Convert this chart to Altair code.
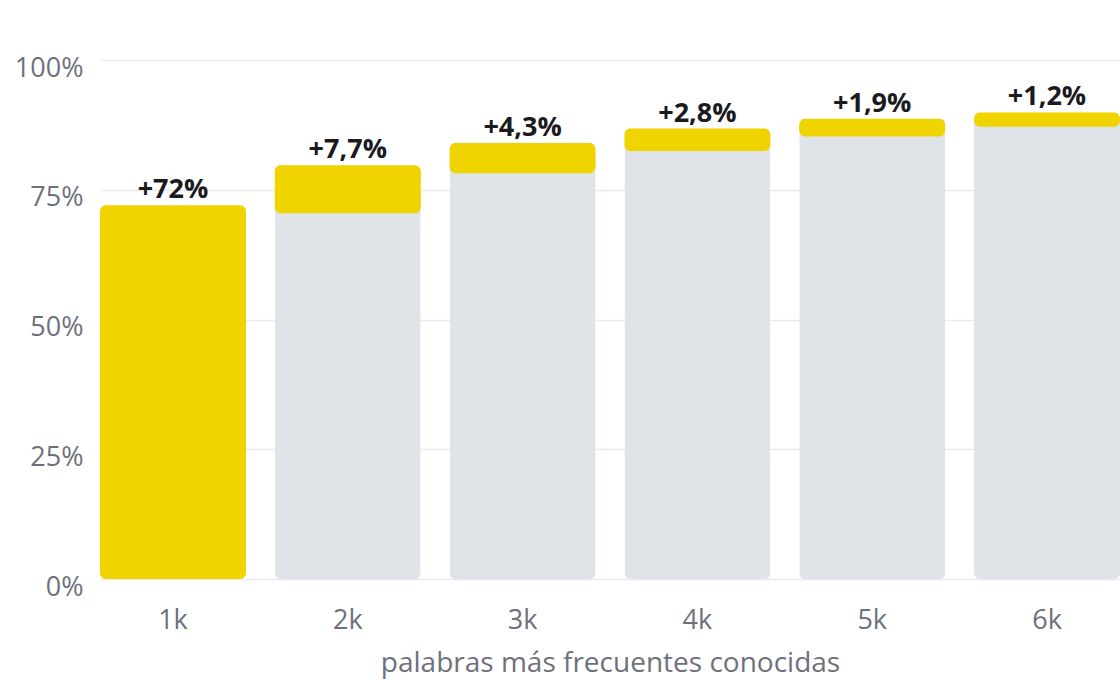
import altair as alt
import pandas as pd

categories = ["1k", "2k", "3k", "4k", "5k", "6k"]
increments = [72.0, 7.7, 4.3, 2.8, 1.9, 1.2]
labels = ["+72%", "+7,7%", "+4,3%", "+2,8%", "+1,9%", "+1,2%"]

starts = []
totals = []
acc = 0.0
for v in increments:
    starts.append(acc)
    acc += v
    totals.append(acc)

df = pd.DataFrame({"cat": categories, "start": starts, "total": totals, "label": labels})

YELLOW = "#F0D400"
GRAY = "#E0E3E8"
FONT = "Open Sans"
AXC = "#6E717C"

x = alt.X("cat:N", sort=categories,
          scale=alt.Scale(paddingInner=0.165, paddingOuter=0),
          axis=alt.Axis(title="palabras más frecuentes conocidas", labelAngle=0,
                        labelFontSize=27, labelColor=AXC, labelFont=FONT,
                        labelPadding=28, ticks=False, domain=False,
                        titleFontSize=28, titleColor=AXC, titleFont=FONT,
                        titleFontWeight="normal", titlePadding=16))
yscale = alt.Scale(domain=[0, 100], nice=False)

base = alt.Chart(df)

gray = base.transform_filter("datum.start > 0").mark_bar(color=GRAY, cornerRadius=6).encode(
    x=x,
    y=alt.Y("total:Q", scale=yscale,
            axis=alt.Axis(title=None, values=[0, 25, 50, 75, 100],
                          labelExpr="datum.value + '%'", labelFontSize=27,
                          labelColor=AXC, labelFont=FONT, labelPadding=17,
                          labelOffset=8,
                          ticks=False, domain=False, gridColor="#EAEAEE",
                          gridWidth=1.5)),
    y2=alt.value(576),
)

first = base.transform_filter("datum.start == 0").mark_bar(color=YELLOW, cornerRadius=6).encode(
    x=x, y=alt.Y("total:Q", scale=yscale), y2="start:Q")

inc = base.transform_filter("datum.start > 0").mark_bar(color=YELLOW, cornerRadius=6, y2Offset=8).encode(
    x=x, y=alt.Y("total:Q", scale=yscale), y2="start:Q")

text = base.mark_text(font=FONT, fontSize=27, fontWeight="bold", color="#1A1A1F",
                      baseline="alphabetic", dy=-7).encode(
    x=x, y=alt.Y("total:Q", scale=yscale), text="label:N")

chart = alt.layer(gray, first, inc, text).properties(
    width=1020, height=519,
    autosize=alt.AutoSizeParams(type="none"),
    padding={"left": 100, "top": 60, "right": 0, "bottom": 101},
).configure_view(stroke=None)

chart.save("out.html", embed_options={"renderer": "svg", "actions": False})
